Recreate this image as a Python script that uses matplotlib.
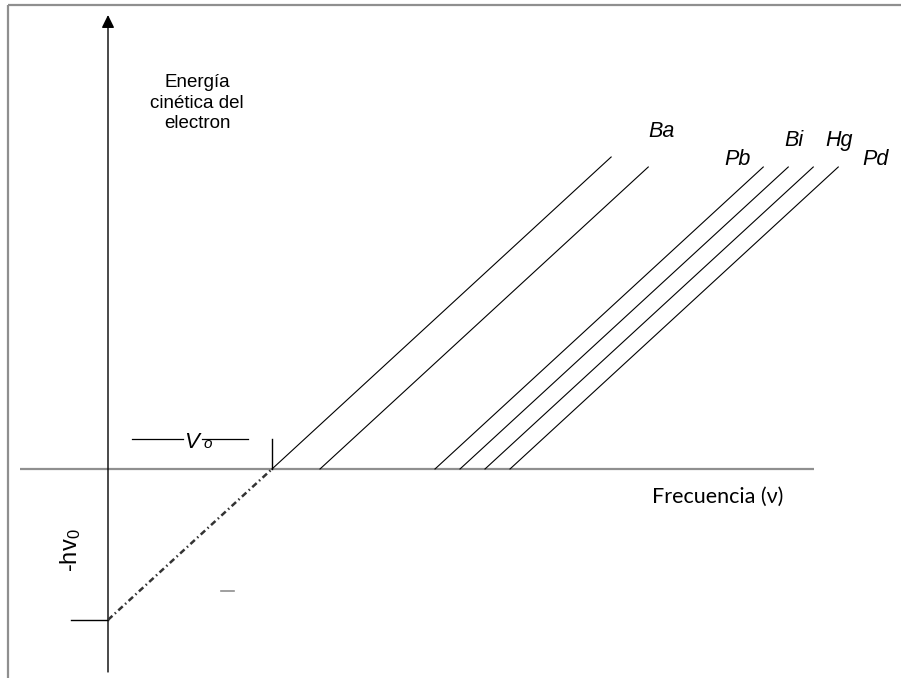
import matplotlib
matplotlib.use("Agg")
import matplotlib.pyplot as plt
import numpy as np

# Photoelectric effect: kinetic energy of the emitted electron vs. frequency
metals = ["Ba", "Pb", "Bi", "Hg", "Pd"]
# threshold frequencies of the drawn lines (arbitrary units)
threshold_freqs = [16.4, 21.2, 32.7, 35.2, 37.7, 40.2]
# kinetic energy reached at the upper end of each line
top_energies = [31.2, 30.2, 30.2, 30.2, 30.2, 30.2]
h_slope = 0.92  # common slope (Planck constant, arbitrary units)

# label anchor points (frequency, energy) for each metal
label_freqs = [55.4, 63.0, 68.6, 73.1, 76.8]
label_energies = [33.2, 30.4, 32.3, 32.3, 30.4]

W, H = 901, 679
fig = plt.figure(figsize=(W / 100, H / 100), dpi=100)
ax = fig.add_axes([0, 0, 1, 1])
ax.set_xlim(-10.8, 79.3)
ax.set_ylim(-21.0, 46.9)
ax.axis("off")

grey = "#8f8f8f"

# outer frame (top and left edges)
ax.plot([-10.0, 79.3], [46.4, 46.4], color=grey, lw=1.6, solid_capstyle="butt")
ax.plot([-10.0, -10.0], [46.4, -20.9], color=grey, lw=1.6, solid_capstyle="butt")

# frequency axis
ax.plot([-8.8, 70.6], [0, 0], color=grey, lw=1.6, solid_capstyle="butt", zorder=1)

# energy axis with arrow
ax.annotate("", xy=(0, 45.4), xytext=(0, -20.3),
            arrowprops=dict(arrowstyle="-|>,head_length=0.55,head_width=0.27",
                            mutation_scale=14, color="black", lw=1.0,
                            shrinkA=0, shrinkB=0))

# straight lines E = h (nu - nu0)
for nu0, etop in zip(threshold_freqs, top_energies):
    nu = np.array([nu0, nu0 + etop / h_slope])
    ax.plot(nu, h_slope * (nu - nu0), color="black", lw=0.8, zorder=3)

# extrapolation of the first line down to the energy axis
nu0 = threshold_freqs[0]
nu_ext = np.array([0.0, nu0])
ax.plot(nu_ext, h_slope * (nu_ext - nu0), color="#333333", lw=1.8,
        dashes=(2.4, 1.3, 0.6, 1.3), zorder=3)

# intercept marks
e_int = -h_slope * nu0
ax.plot([-3.7, 0], [e_int, e_int], color="black", lw=1.0)
ax.plot([nu0, nu0], [0, 3.0], color="black", lw=1.0)

# V0 bracket
ax.plot([2.4, 7.5], [3.0, 3.0], color="black", lw=0.9)
ax.plot([9.4, 14.0], [3.0, 3.0], color="black", lw=0.9)
ax.text(7.6, 2.1, "V", fontsize=16, style="italic", family="Liberation Sans",
        ha="left", va="baseline")
ax.text(9.5, 2.1, "o", fontsize=11, style="italic", family="Liberation Sans",
        ha="left", va="baseline")

# small grey dash
ax.plot([11.3, 12.6], [-12.2, -12.2], color=grey, lw=1.2)

# metal labels
for name, fx, fy in zip(metals, label_freqs, label_energies):
    ax.text(fx, fy, name, fontsize=15.5, style="italic", family="Liberation Sans",
            ha="center", va="baseline")

# axis titles
ax.text(8.9, 34.1, "Energía\ncinética del\nelectron", fontsize=13.5,
        family="Liberation Sans", ha="center", va="baseline",
        multialignment="center", linespacing=1.26)
ax.text(61.0, -3.4, "Frecuencia (ν)", fontsize=15.5, family="Lato",
        ha="center", va="baseline")
ax.text(-3.7, -8.1, r"-h$\mathregular{v_0}$", fontsize=17, rotation=90,
        family="Liberation Sans", ha="center", va="center")

fig.savefig("out.png", dpi=100)
